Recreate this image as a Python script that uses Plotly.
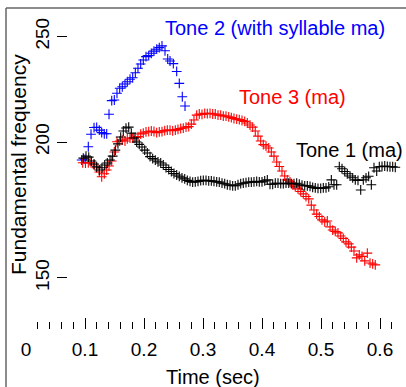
import plotly.graph_objects as go

# Tone 2 (blue)
tone2_t = [0.0944, 0.1000, 0.1056, 0.1102, 0.1153, 0.1198, 0.1242, 0.1283, 0.1327, 0.1368,
           0.1407, 0.1453, 0.1497, 0.1542, 0.1588, 0.1632, 0.1678, 0.1717, 0.1763, 0.1808,
           0.1853, 0.1898, 0.1944, 0.1988, 0.2034, 0.2080, 0.2124, 0.2169, 0.2215, 0.2259,
           0.2305, 0.2356, 0.2402, 0.2441, 0.2497, 0.2554, 0.2598, 0.2649, 0.2695]
tone2_f = [192.5, 192.8, 198.0, 203.3, 206.2, 206.3, 205.1, 204.0, 203.5, 203.5,
           212.1, 218.3, 218.6, 221.7, 224.1, 224.8, 226.1, 227.2, 228.4, 229.1,
           231.6, 233.8, 235.9, 237.9, 239.6, 240.1, 241.3, 242.4, 243.4, 244.2,
           245.1, 242.6, 238.4, 237.4, 236.1, 232.2, 226.4, 220.1, 215.8]

# Tone 3 (red)
tone3_t = [0.0961, 0.1008, 0.1056, 0.1102, 0.1153, 0.1198, 0.1242, 0.1283, 0.1327, 0.1368,
           0.1407, 0.1453, 0.1497, 0.1542, 0.1588, 0.1632, 0.1678, 0.1717, 0.1763, 0.1808,
           0.1853, 0.1898, 0.1944, 0.1988, 0.2034, 0.2080, 0.2124, 0.2169, 0.2215, 0.2259,
           0.2305, 0.2351, 0.2395, 0.2441, 0.2486, 0.2531, 0.2576, 0.2622, 0.2666, 0.2712,
           0.2758, 0.2802, 0.2847, 0.2893, 0.2937, 0.2983, 0.3029, 0.3073, 0.3119, 0.3164,
           0.3208, 0.3254, 0.3300, 0.3344, 0.3390, 0.3436, 0.3480, 0.3525, 0.3571, 0.3615,
           0.3661, 0.3707, 0.3751, 0.3797, 0.3842, 0.3886, 0.3932, 0.3978, 0.4022, 0.4068,
           0.4114, 0.4158, 0.4203, 0.4249, 0.4293, 0.4339, 0.4385, 0.4429, 0.4475, 0.4520,
           0.4564, 0.4610, 0.4656, 0.4700, 0.4746, 0.4792, 0.4836, 0.4881, 0.4927, 0.4971,
           0.5017, 0.5063, 0.5107, 0.5153, 0.5198, 0.5242, 0.5288, 0.5334, 0.5378, 0.5424,
           0.5469, 0.5514, 0.5559, 0.5605, 0.5649, 0.5695, 0.5741, 0.5785, 0.5831, 0.5876,
           0.5920]
tone3_f = [191.4, 191.3, 191.4, 191.4, 190.5, 189.4, 187.7, 185.8, 187.0, 188.5,
           190.1, 192.1, 195.8, 200.1, 200.4, 200.8, 200.4, 201.3, 201.7, 201.7,
           201.9, 202.3, 203.4, 203.8, 204.3, 204.4, 204.7, 204.5, 204.0, 204.3,
           204.4, 204.9, 205.1, 205.1, 204.8, 205.1, 205.4, 205.8, 206.0, 206.4,
           206.6, 207.7, 209.5, 211.7, 212.2, 212.0, 212.5, 212.4, 212.5, 212.2,
           212.2, 211.7, 211.7, 211.3, 211.3, 210.9, 210.6, 210.2, 209.9, 209.7,
           209.3, 208.9, 208.2, 207.3, 206.4, 204.7, 202.5, 200.4, 198.9, 198.3,
           197.5, 195.8, 194.1, 191.7, 189.9, 188.1, 186.1, 184.6, 183.8, 182.7,
           181.9, 181.1, 180.1, 179.2, 178.2, 177.3, 175.0, 173.2, 171.7, 170.8,
           169.6, 168.9, 169.2, 167.1, 166.0, 165.5, 165.0, 163.9, 163.1, 161.9,
           161.2, 160.1, 158.8, 156.5, 157.5, 157.0, 155.5, 158.1, 154.8, 154.5,
           154.2]

# Tone 1 (black)
tone1_t = [0.0971, 0.1017, 0.1063, 0.1107, 0.1153, 0.1198, 0.1242, 0.1288, 0.1334, 0.1378,
           0.1424, 0.1469, 0.1514, 0.1559, 0.1605, 0.1649, 0.1695, 0.1741, 0.1785, 0.1831,
           0.1876, 0.1920, 0.1966, 0.2012, 0.2056, 0.2102, 0.2147, 0.2192, 0.2237, 0.2283,
           0.2327, 0.2373, 0.2419, 0.2463, 0.2508, 0.2554, 0.2598, 0.2644, 0.2690, 0.2734,
           0.2780, 0.2825, 0.2869, 0.2915, 0.2961, 0.3005, 0.3051, 0.3097, 0.3141, 0.3186,
           0.3232, 0.3276, 0.3322, 0.3368, 0.3412, 0.3458, 0.3503, 0.3547, 0.3593, 0.3639,
           0.3683, 0.3729, 0.3775, 0.3819, 0.3864, 0.3910, 0.3954, 0.4000, 0.4046, 0.4090,
           0.4136, 0.4181, 0.4225, 0.4271, 0.4317, 0.4361, 0.4407, 0.4453, 0.4497, 0.4542,
           0.4588, 0.4632, 0.4678, 0.4724, 0.4768, 0.4814, 0.4859, 0.4903, 0.4949, 0.4995,
           0.5039, 0.5085, 0.5131, 0.5175, 0.5220, 0.5266, 0.5310, 0.5356, 0.5402, 0.5446,
           0.5492, 0.5537, 0.5581, 0.5627, 0.5673, 0.5717, 0.5763, 0.5808, 0.5853, 0.5898,
           0.5944, 0.5988, 0.6034, 0.6080, 0.6124, 0.6169, 0.6215, 0.6259]
tone1_f = [193.3, 194.1, 193.7, 192.1, 190.9, 189.8, 188.5, 189.4, 190.5, 191.3,
           192.5, 194.1, 196.6, 199.2, 202.1, 204.7, 206.0, 206.4, 203.8, 201.7,
           200.0, 199.0, 197.9, 196.6, 195.4, 193.9, 193.1, 192.5, 191.8, 191.3,
           190.5, 189.5, 188.7, 187.9, 187.1, 186.5, 186.0, 185.4, 185.0, 184.4,
           184.0, 183.7, 183.8, 184.0, 184.3, 184.4, 184.4, 184.2, 184.2, 184.0,
           183.8, 183.7, 183.3, 183.1, 182.7, 182.5, 182.3, 182.3, 182.7, 183.1,
           183.3, 183.5, 183.7, 183.7, 183.8, 184.0, 183.8, 183.8, 184.2, 184.6,
           182.9, 182.9, 183.3, 183.3, 183.1, 183.1, 183.3, 183.3, 183.1, 183.1,
           183.3, 182.9, 182.5, 182.3, 182.3, 182.1, 181.7, 181.5, 181.3, 181.3,
           181.5, 181.5, 181.9, 184.6, 182.7, 182.7, 189.8, 189.0, 187.9, 187.0,
           186.1, 185.4, 184.6, 184.4, 180.7, 184.6, 185.4, 186.0, 182.7, 189.4,
           188.1, 189.8, 189.9, 190.1, 189.9, 189.8, 189.8, 189.6]

x_tickvals = [0, 0.1, 0.2, 0.3, 0.4, 0.5, 0.6]
x_ticktext = ["0", "0.1", "0.2", "0.3", "0.4", "0.5", "0.6"]
y_tickvals = [150, 200, 250]
y_ticktext = ["150", "200", "250"]

FONT = "Liberation Sans, Arial, sans-serif"

def series(t, f, color):
    return go.Scatter(
        x=t, y=f, mode="markers", showlegend=False, hoverinfo="skip",
        marker=dict(symbol="cross-thin", size=7, color=color,
                    line=dict(color=color, width=1.1)),
    )

fig = go.Figure()
fig.add_trace(series(tone2_t, tone2_f, "#0000ff"))
fig.add_trace(series(tone3_t, tone3_f, "#ff0000"))
fig.add_trace(series(tone1_t, tone1_f, "#000000"))

L, R, T, B = 26, 5, 8, 58
W, H = 406, 387
pw = W - L - R
ph = H - T - B

fig.update_layout(
    width=W, height=H,
    margin=dict(l=L, r=R, t=T, b=B, pad=0),
    paper_bgcolor="white", plot_bgcolor="white",
    font=dict(family=FONT, size=19, color="black"),
    xaxis=dict(
        range=[0, pw / 590.0],
        showgrid=False, zeroline=False, showline=False,
        tickmode="array", tickvals=x_tickvals, ticktext=x_ticktext,
        ticks="inside", ticklen=11, tickwidth=1, tickcolor="black",
        minor=dict(dtick=0.02, ticks="inside", ticklen=7, tickwidth=1,
                   tickcolor="black", showgrid=False),
        ticklabelstandoff=7,
        tickfont=dict(size=19),
    ),
    yaxis=dict(
        type="log",
        range=[2.12915, 2.42419],
        showgrid=False, zeroline=False, showline=False,
        tickmode="array", tickvals=y_tickvals, ticktext=y_ticktext,
        ticks="outside", ticklen=10, tickwidth=1, tickcolor="black",
        tickangle=-90,
        anchor="free", position=(67 - L) / pw,
        tickfont=dict(size=19),
    ),
    annotations=[
        dict(text="Tone 2 (with syllable ma)", x=(274.5 - L) / pw, y=(H - B - 28) / ph,
             xref="paper", yref="paper", showarrow=False,
             font=dict(size=20, color="#0000ff"), xanchor="center", yanchor="middle"),
        dict(text="Tone 3 (ma)", x=(292 - L) / pw, y=(H - B - 97) / ph,
             xref="paper", yref="paper", showarrow=False,
             font=dict(size=20, color="#ff0000"), xanchor="center", yanchor="middle"),
        dict(text="Tone 1 (ma)", x=(349.5 - L) / pw, y=(H - B - 150) / ph,
             xref="paper", yref="paper", showarrow=False,
             font=dict(size=20, color="black"), xanchor="center", yanchor="middle"),
        dict(text="Time (sec)", x=(212.5 - L) / pw, y=(H - B - 377) / ph,
             xref="paper", yref="paper", showarrow=False,
             font=dict(size=20, color="black"), xanchor="center", yanchor="middle"),
        dict(text="Fundamental frequency", x=(18 - L) / pw, y=(H - B - 165) / ph,
             xref="paper", yref="paper", showarrow=False, textangle=-90,
             font=dict(size=21, color="black"), xanchor="center", yanchor="middle"),
    ],
    shapes=[
        dict(type="line", xref="paper", yref="paper",
             x0=(6 - L) / pw, x1=1.2, y0=(H - B - 8) / ph, y1=(H - B - 8) / ph,
             line=dict(color="#666666", width=1.5)),
        dict(type="line", xref="paper", yref="paper",
             x0=(6 - L) / pw, x1=(6 - L) / pw, y0=(H - B - 8) / ph, y1=-0.4,
             line=dict(color="#666666", width=1.5)),
    ],
)

fig.write_html(
    "out.html",
    config={"displayModeBar": False, "staticPlot": True},
    post_script="document.body.style.margin='0';document.body.style.overflow='hidden';",
)
